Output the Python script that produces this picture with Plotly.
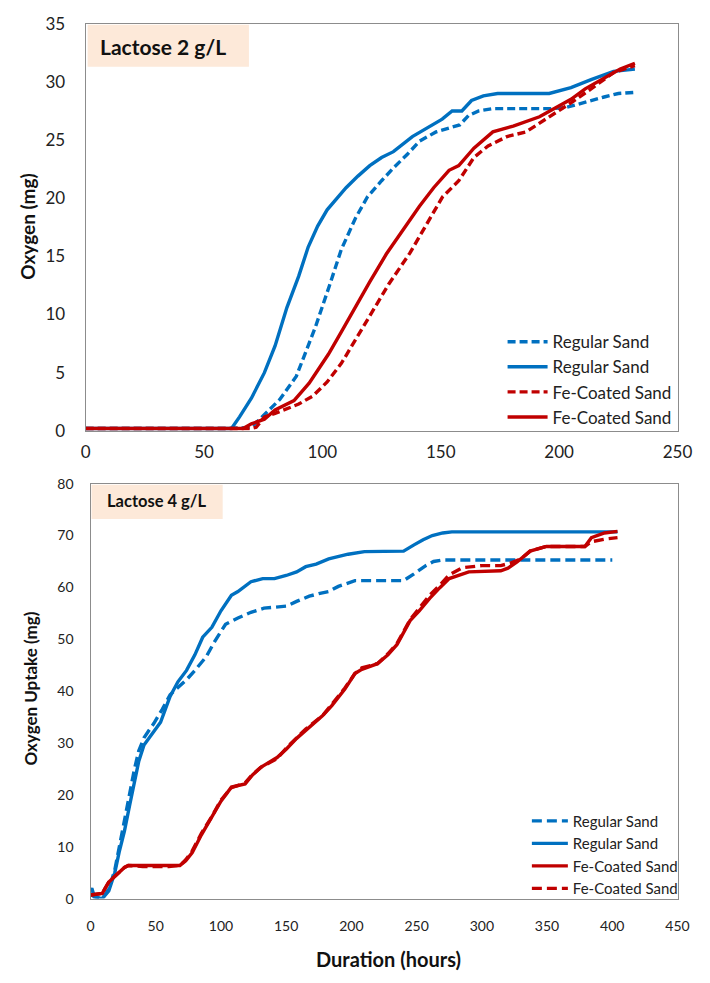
import plotly.graph_objects as go

# ---------------- Data: Lactose 2 g/L (top) ----------------
top_rs_dash_x = [0, 30, 60, 70, 76, 82, 89, 97, 103, 108, 114, 119, 125, 130, 136, 141, 148, 156, 158, 161.7, 166, 172, 185, 197, 203, 208, 214, 219, 225, 232]
top_rs_dash_y = [0.2, 0.2, 0.2, 0.3, 1.5, 2.7, 4.7, 8.9, 12.5, 15.6, 18.3, 20.1, 21.5, 22.6, 23.8, 24.9, 25.7, 26.2, 26.3, 27.1, 27.5, 27.7, 27.7, 27.7, 27.8, 28.1, 28.4, 28.7, 29.0, 29.1]

top_rs_solid_x = [0, 30, 61.6, 65, 70, 75.5, 80, 85, 90, 94, 98, 102, 106, 110, 115, 120, 125, 130, 138, 145, 150.6, 154.8, 158.9, 163, 168, 174, 185, 195.8, 205, 213.5, 223, 232]
top_rs_solid_y = [0.2, 0.2, 0.2, 1.2, 2.8, 5.0, 7.3, 10.6, 13.3, 15.8, 17.6, 19.0, 20.0, 20.9, 21.9, 22.8, 23.5, 24.0, 25.3, 26.1, 26.8, 27.5, 27.5, 28.4, 28.8, 29.0, 29.0, 29.0, 29.5, 30.2, 30.9, 31.1]

top_fe_dash_x = [0, 30, 70, 72, 75.5, 80, 84, 90, 96, 102, 108, 113.7, 120, 128, 137, 144, 150.7, 157.6, 164, 170, 178, 186, 194.6, 200, 205, 213.5, 223, 232]
top_fe_dash_y = [0.2, 0.2, 0.2, 0.3, 1.2, 1.5, 1.85, 2.3, 3.0, 4.2, 5.8, 7.7, 9.9, 12.6, 15.3, 17.8, 20.1, 21.5, 23.5, 24.5, 25.3, 25.7, 26.8, 27.5, 28.2, 29.4, 30.8, 31.4]

top_fe_solid_x = [0, 30, 66.5, 70, 75.5, 80, 84, 88, 94.4, 98, 102.6, 108, 113.7, 120, 127, 134, 141, 147, 153.5, 157.6, 164, 172, 180.6, 191.7, 200, 205, 211, 219, 225.8, 232]
top_fe_solid_y = [0.2, 0.2, 0.2, 0.6, 1.0, 1.8, 2.2, 2.6, 4.1, 5.2, 6.6, 8.5, 10.6, 12.8, 15.2, 17.3, 19.3, 20.9, 22.4, 22.8, 24.3, 25.7, 26.2, 27.0, 27.9, 28.5, 29.4, 30.3, 31.1, 31.6]

# ---------------- Data: Lactose 4 g/L (bottom) ----------------
bot_rs_dash_x = [0, 2, 9, 14, 18.6, 22, 26, 30, 33.7, 37, 41, 45, 48.6, 55, 61, 67, 73.6, 80, 88.6, 95, 103.5, 113, 123, 133, 142, 150.5, 158, 167.7, 175, 182.6, 190, 202.7, 220, 240, 248, 257, 263, 270, 300, 350, 400]
bot_rs_dash_y = [1.0, 0.5, 0.0, 1.8, 5.5, 10.0, 15.0, 20.5, 25.0, 28.5, 31.0, 32.5, 33.8, 36.5, 39.3, 40.7, 42.2, 44.0, 46.6, 49.5, 52.9, 54.1, 55.2, 56.0, 56.2, 56.4, 57.3, 58.3, 58.8, 59.2, 60.2, 61.3, 61.3, 61.3, 62.6, 64.2, 65.0, 65.3, 65.3, 65.3, 65.3]

bot_rs_solid_x = [0, 1, 3, 9, 14, 18.6, 22, 26, 30, 33.7, 37, 41, 47, 53.7, 61, 67, 73.6, 80, 86, 93, 100, 108, 113, 123, 132, 141, 150, 158, 165, 173, 182.6, 190, 197.5, 210, 225, 240, 248, 255, 262, 270, 277, 300, 350, 404]
bot_rs_solid_y = [1.5, 2.0, 0.3, 0.0, 1.5, 5.0, 9.0, 13.0, 18.0, 22.6, 26.5, 29.6, 31.8, 34.0, 39.0, 41.8, 44.0, 47.0, 50.4, 52.3, 55.5, 58.5, 59.2, 61.1, 61.7, 61.7, 62.3, 63.0, 64.0, 64.5, 65.5, 66.0, 66.4, 66.9, 66.9, 67.0, 68.2, 69.2, 70.0, 70.5, 70.7, 70.7, 70.7, 70.7]

bot_fe_solid_x = [0, 9, 14, 20, 26, 29, 40, 50, 60, 68.5, 73, 78, 85, 93, 100, 108, 118.5, 124, 130.5, 143, 150, 158, 165, 178, 185, 195, 202.7, 208, 220, 228, 235, 245, 252, 260, 268, 275, 290, 314.5, 320, 327, 337, 349.5, 365, 379, 384, 394, 404]
bot_fe_solid_y = [0.7, 1.0, 3.2, 4.5, 6.0, 6.4, 6.4, 6.4, 6.4, 6.4, 7.3, 8.9, 12.3, 15.8, 18.8, 21.5, 22.1, 23.8, 25.3, 27.2, 28.8, 30.9, 32.5, 35.3, 37.2, 40.4, 43.4, 44.2, 45.3, 47.0, 49.0, 53.6, 55.5, 57.9, 60.0, 61.7, 63.0, 63.2, 63.7, 64.9, 67.0, 67.9, 67.9, 67.9, 69.6, 70.5, 70.8]

bot_fe_dash_x = [0, 9, 14, 20, 26, 29, 40, 50, 60, 68.5, 73, 78, 85, 93, 100, 108, 118.5, 124, 130.5, 143, 150, 158, 165, 178, 185, 195, 202.7, 208, 220, 228, 235, 245, 252, 260, 268, 275, 285, 300, 314.5, 322, 330, 337, 349.5, 365, 379, 384, 394, 404]
bot_fe_dash_y = [0.7, 1.0, 3.2, 4.5, 6.0, 6.4, 6.2, 6.2, 6.2, 6.4, 7.5, 9.2, 12.6, 15.8, 19.0, 21.4, 22.3, 23.9, 25.3, 27.0, 29.0, 31.0, 32.7, 35.3, 37.5, 40.6, 43.4, 44.5, 45.3, 47.2, 49.2, 53.8, 56.0, 58.5, 60.5, 62.4, 63.8, 64.2, 64.2, 64.7, 65.5, 67.0, 67.9, 67.9, 67.9, 68.8, 69.3, 69.6]

BLUE = "#0070C0"
RED = "#C00000"
FONT = "Lato"
W, H = 710, 983

fig = go.Figure()

def add(x, y, name, color, dash, xa, ya, legend):
    fig.add_trace(go.Scatter(
        x=x, y=y, mode="lines", name=name,
        line=dict(color=color, width=3.4, dash=dash),
        xaxis=xa, yaxis=ya, legend=legend,
    ))

# top panel (legend order: dashed RS, solid RS, dashed Fe, solid Fe)
add(top_rs_dash_x, top_rs_dash_y, "Regular Sand", BLUE, "8px,4px", "x", "y", "legend")
add(top_rs_solid_x, top_rs_solid_y, "Regular Sand", BLUE, "solid", "x", "y", "legend")
add(top_fe_dash_x, top_fe_dash_y, "Fe-Coated Sand", RED, "8px,4px", "x", "y", "legend")
add(top_fe_solid_x, top_fe_solid_y, "Fe-Coated Sand", RED, "solid", "x", "y", "legend")

# bottom panel (legend order: dashed RS, solid RS, solid Fe, dashed Fe)
add(bot_rs_dash_x, bot_rs_dash_y, "Regular Sand", BLUE, "10px,5px", "x2", "y2", "legend2")
add(bot_rs_solid_x, bot_rs_solid_y, "Regular Sand", BLUE, "solid", "x2", "y2", "legend2")
add(bot_fe_solid_x, bot_fe_solid_y, "Fe-Coated Sand", RED, "solid", "x2", "y2", "legend2")
add(bot_fe_dash_x, bot_fe_dash_y, "Fe-Coated Sand", RED, "10px,5px", "x2", "y2", "legend2")

def px_x(p):
    return p / W

def px_y(p):
    return 1 - p / H

axis_common = dict(showgrid=False, zeroline=False, showline=True, mirror=True,
                   linecolor="#8C8C8C", linewidth=1.3, ticks="")

fig.update_layout(
    width=W, height=H,
    margin=dict(l=0, r=0, t=0, b=0),
    paper_bgcolor="white", plot_bgcolor="white",
    font=dict(family=FONT, color="#222222"),
    xaxis=dict(domain=[px_x(83), px_x(692)], range=[0, 250], dtick=50, anchor="y",
               tickfont=dict(size=17), ticklabelstandoff=6, **axis_common),
    yaxis=dict(domain=[px_y(429), px_y(13)], range=[0, 35], dtick=5, anchor="x",
               tickfont=dict(size=17), ticklabelstandoff=16, **axis_common),
    xaxis2=dict(domain=[px_x(88), px_x(692)], range=[0, 450], dtick=50, anchor="y2",
                tickfont=dict(size=14), ticklabelstandoff=14, **axis_common),
    yaxis2=dict(domain=[px_y(907), px_y(483)], range=[0, 80], dtick=10, anchor="x2",
                tickfont=dict(size=14), ticklabelstandoff=13, **axis_common),
    legend=dict(x=px_x(512), y=px_y(320), xanchor="left", yanchor="top",
                font=dict(size=17, family=FONT, color="#222222"), bgcolor="rgba(0,0,0,0)",
                tracegroupgap=0, itemwidth=40),
    legend2=dict(x=px_x(537), y=px_y(811), xanchor="left", yanchor="top",
                 font=dict(size=15, family=FONT, color="#222222"), bgcolor="rgba(0,0,0,0)",
                 tracegroupgap=0, itemwidth=36),
    showlegend=True,
)

# label boxes
fig.add_shape(type="rect", xref="paper", yref="paper",
              x0=px_x(85), x1=px_x(251), y0=px_y(57), y1=px_y(14),
              fillcolor="#FDE9D9", line=dict(width=0), layer="below")
fig.add_shape(type="rect", xref="paper", yref="paper",
              x0=px_x(89), x1=px_x(224), y0=px_y(519), y1=px_y(484),
              fillcolor="#FDE9D9", line=dict(width=0), layer="below")

ann = [
    dict(text="<b>Lactose 2 g/L</b>", x=px_x(163), y=px_y(36), size=21),
    dict(text="<b>Lactose 4 g/L</b>", x=px_x(156), y=px_y(501), size=16.5),
    dict(text="<b>Oxygen (mg)</b>", x=px_x(23), y=px_y(220), size=19),
    dict(text="<b>Oxygen Uptake (mg)</b>", x=px_x(26), y=px_y(692), size=17),
    dict(text="<b>Duration (hours)</b>", x=px_x(395), y=px_y(969), size=20),
]
for i, a in enumerate(ann):
    fig.add_annotation(text=a["text"], x=a["x"], y=a["y"], xref="paper", yref="paper",
                       xanchor="center", yanchor="middle", showarrow=False,
                       textangle=-90 if i in (2, 3) else 0,
                       font=dict(size=a["size"], family=FONT, color="#111111"))

fig.write_html("out.html")
